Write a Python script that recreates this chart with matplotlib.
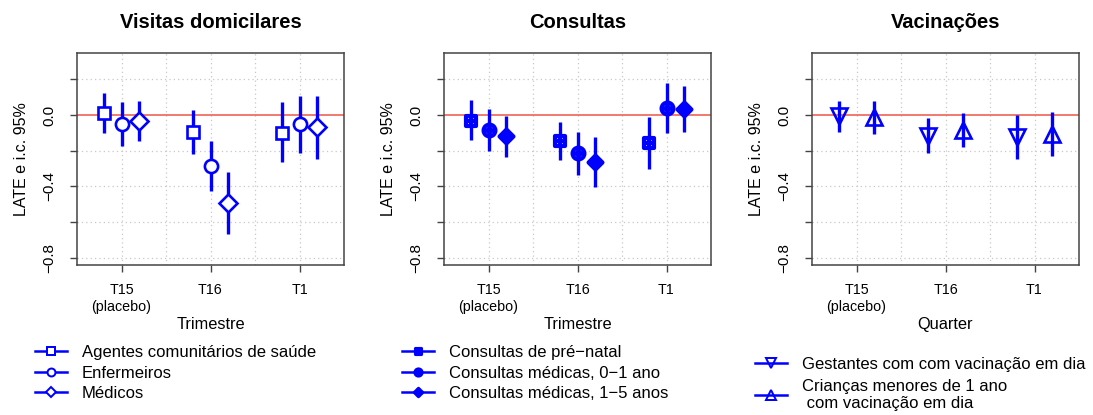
import numpy as np
import matplotlib
matplotlib.use('Agg')
import matplotlib.pyplot as plt
from matplotlib.path import Path
from matplotlib.lines import Line2D

plt.rcParams['font.family'] = ['Liberation Sans', 'DejaVu Sans']

# quarters on the x axis
quarters = ['T15\n(placebo)', 'T16', 'T1']

# Visitas domicilares: estimate, lower, upper (T15, T16, T1)
vis_labels = ['Agentes comunitários de saúde', 'Enfermeiros', 'Médicos']
vis_est = [[0.013, -0.095, -0.099], [-0.050, -0.285, -0.052], [-0.032, -0.493, -0.069]]
vis_lo = [[-0.099, -0.218, -0.261], [-0.173, -0.424, -0.215], [-0.144, -0.666, -0.246]]
vis_hi = [[0.121, 0.028, 0.071], [0.073, -0.144, 0.108], [0.080, -0.317, 0.108]]

# Consultas
con_labels = ['Consultas de pré\u2212natal', 'Consultas médicas, 0\u22121 ano',
              'Consultas médicas, 1\u22125 anos']
con_est = [[-0.032, -0.147, -0.159], [-0.084, -0.215, 0.037], [-0.119, -0.265, 0.034]]
con_lo = [[-0.140, -0.252, -0.304], [-0.200, -0.336, -0.103], [-0.237, -0.401, -0.097]]
con_hi = [[0.084, -0.039, -0.011], [0.032, -0.093, 0.179], [-0.004, -0.125, 0.162]]

# Vacinações
vac_labels = ['Gestantes com com vacinação em dia',
              'Crianças menores de 1 ano\n com vacinação em dia']
vac_est = [[-0.007, -0.116, -0.122], [-0.013, -0.086, -0.104]]
vac_lo = [[-0.093, -0.215, -0.244], [-0.106, -0.181, -0.228]]
vac_hi = [[0.080, -0.019, 0.0], [0.080, 0.009, 0.019]]

BLUE = '#0000FF'


def with_plus(base):
    plus = Path([(-1, 0), (1, 0), (0, -1), (0, 1)],
                [Path.MOVETO, Path.LINETO, Path.MOVETO, Path.LINETO])
    return Path.make_compound_path(base, plus)


sq_plus = with_plus(Path([(-1, -1), (1, -1), (1, 1), (-1, 1), (-1, -1)],
                         [Path.MOVETO] + [Path.LINETO] * 3 + [Path.CLOSEPOLY]))
ci_plus = with_plus(Path.unit_circle())
di_plus = with_plus(Path([(0, -1), (1, 0), (0, 1), (-1, 0), (0, -1)],
                         [Path.MOVETO] + [Path.LINETO] * 3 + [Path.CLOSEPOLY]))

fig = plt.figure(figsize=(10.93, 4.15), dpi=100)
lefts = [77, 444, 812]
axes = [fig.add_axes([l / 1093, 150 / 415, 267 / 1093, 212 / 415]) for l in lefts]

# marker, face colour, size, edge width
panels = [
    ('Visitas domicilares', 'Trimestre', vis_labels, vis_est, vis_lo, vis_hi,
     [-0.2, 0.0, 0.2], [('s', 'white', 8.5, 1.9), ('o', 'white', 9.5, 1.9), ('D', 'white', 9, 1.9)]),
    ('Consultas', 'Trimestre', con_labels, con_est, con_lo, con_hi,
     [-0.2, 0.0, 0.2], [(sq_plus, 'none', 7.5, 3.0), (ci_plus, 'none', 8.5, 3.0), (di_plus, 'none', 10, 3.0)]),
    ('Vacinações', 'Quarter', vac_labels, vac_est, vac_lo, vac_hi,
     [-0.2, 0.2], [('v', 'none', 11, 1.9), ('^', 'none', 11, 1.9)]),
]

x = np.arange(1, 4)
for ax, (title, xlab, labels, est, lo, hi, offs, marks) in zip(axes, panels):
    ax.set_xlim(0.5, 3.5)
    ax.set_ylim(-0.84, 0.347)
    ax.set_axisbelow(True)
    for g in [1, 1.5, 2, 2.5, 3]:
        ax.axvline(g, color='#c8c8c8', lw=0.9, ls=(0, (1, 2.5)), zorder=0)
    for g in [-0.8, -0.6, -0.4, -0.2, 0.2]:
        ax.axhline(g, color='#c8c8c8', lw=0.9, ls=(0, (1, 2.5)), zorder=0)
    ax.axhline(0, color='#ee5548', lw=1.1, zorder=1)

    handles = []
    for i, lab in enumerate(labels):
        xs = x + offs[i]
        ax.vlines(xs, lo[i], hi[i], color=BLUE, lw=2.4, zorder=2)
        m, fc, ms, mw = marks[i]
        ax.plot(xs, est[i], ls='none', marker=m, ms=ms, mfc=fc, mec=BLUE, mew=mw, zorder=3)
        handles.append(Line2D([], [], color=BLUE, lw=1.8, marker=m, ms=ms * 0.6,
                              mfc=fc, mec=BLUE, mew=mw * 0.75))

    ax.set_xticks(x)
    ax.set_xticklabels(quarters, fontsize=10.3, linespacing=1.25)
    ax.set_yticks([-0.8, -0.6, -0.4, -0.2, 0.0, 0.2])
    ax.set_yticklabels(['\u22120.8', '', '\u22120.4', '', '0.0', ''], fontsize=11,
                       rotation=90, va='center')
    ax.tick_params(axis='both', length=5, width=1, color='#444444', direction='out')
    ax.tick_params(axis='x', pad=8)
    ax.tick_params(axis='y', pad=10)
    for s in ax.spines.values():
        s.set_color('#444444')
        s.set_linewidth(1.1)
    ax.set_xlabel(xlab, fontsize=11.8, labelpad=2)
    ax.set_ylabel('LATE e i.c. 95%', fontsize=11.5)
    ax.yaxis.set_label_coords(-0.18, 0.5)
    ax.set_title(title, fontsize=14.5, fontweight='bold', pad=18)

    if len(labels) == 3:
        anchor = ((ax.get_position().x0 * 1093 - 42) / 1093, 1 - 345 / 415)
        spacing = 0.33
    else:
        anchor = ((ax.get_position().x0 * 1093 - 57) / 1093, 1 - 357 / 415)
        spacing = 0.4
    ax.legend(handles, labels, loc='upper left', bbox_to_anchor=anchor,
              bbox_transform=fig.transFigure, frameon=False, fontsize=12,
              handlelength=1.9, handletextpad=0.9, labelspacing=spacing,
              borderpad=0, borderaxespad=0)

fig.savefig('out.png', dpi=100)
